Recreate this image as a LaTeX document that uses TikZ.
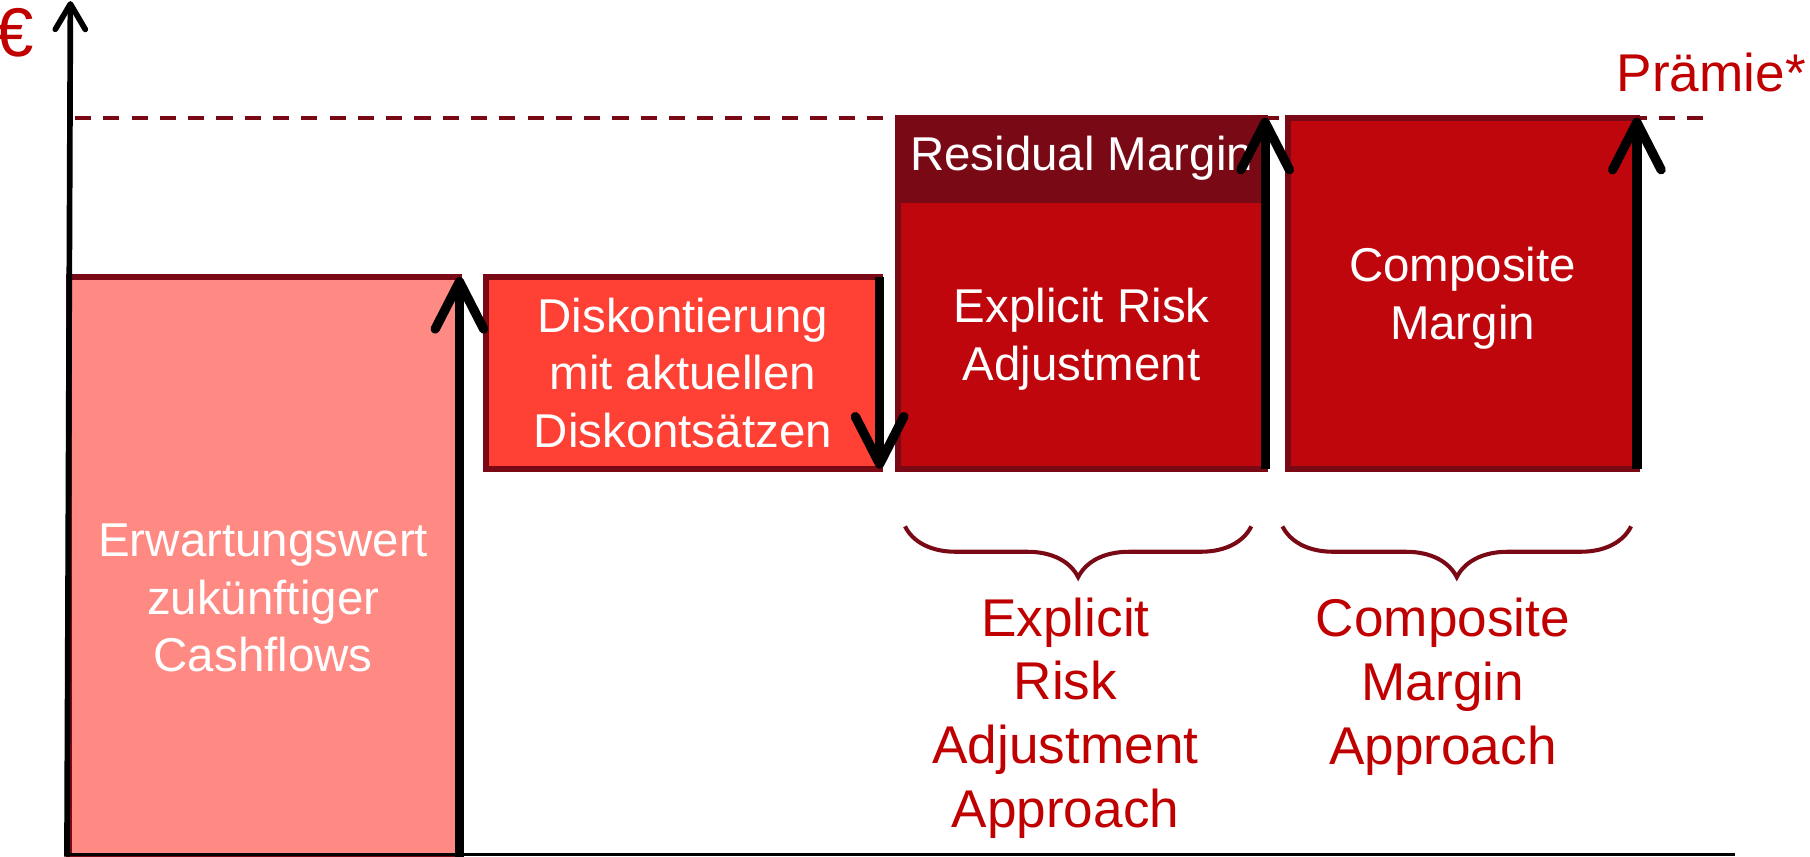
\documentclass[tikz,border=0pt]{standalone}
\usepackage{fontspec}
\setmainfont{Liberation Sans}
\usetikzlibrary{arrows.meta,positioning,decorations.pathreplacing,calc}
\definecolor{darkred}{RGB}{122,9,22}
\definecolor{salmon}{RGB}{255,138,132}
\definecolor{tomato}{RGB}{255,64,52}
\definecolor{bordeaux}{RGB}{190,6,12}
\definecolor{textred}{RGB}{192,0,0}

\begin{document}
\begin{tikzpicture}[
      box/.style={rectangle, draw=darkred, line width=1.5pt, inner sep=0pt, outer sep=0pt, anchor=south west, text=white, align=center, font=\fontsize{11.7}{14.2}\selectfont},
      boxtext/.style={text=white, align=center, font=\fontsize{11.7}{14.2}\selectfont},
      redtext/.style={text=textred, align=center, font=\fontsize{13.1}{15.7}\selectfont},
      move/.style={line width=2.3pt, -{Straight Barb[length=4.1mm,width=4.2mm,round]}},
      curly/.style={decorate, decoration={brace, mirror, amplitude=0.44cm}, draw=darkred, line width=1pt}]
    \useasboundingbox (0,0) rectangle (15.68,7.42);

    \draw[darkred, line width=1pt, dash pattern=on 0.14cm off 0.105cm] (0.65,6.40) -- (14.80,6.40);
    \node[redtext, anchor=base east, inner sep=0pt] (praemie) at (15.65,6.63) {Prämie*};
    \node[redtext, font=\fontsize{17}{20}\selectfont, anchor=west, inner sep=0pt] (euro) at (-0.05,7.14) {€};

    \node[box, fill=salmon, minimum width=3.38cm, minimum height=5.02cm] (cf) at (0.60,0) {};
    \node[boxtext] (cftext) at (2.28,2.24) {Erwartungswert\\zukünftiger\\Cashflows};
    \node[box, fill=tomato, minimum width=3.41cm, minimum height=1.66cm] (disc) at (4.21,3.36) {Diskontierung\\mit aktuellen\\Diskontsätzen};
    \node[box, fill=bordeaux, minimum width=3.18cm, minimum height=2.33cm, text depth=0pt] (era) at (7.78,3.36) {Explicit Risk\\Adjustment};
    \node[box, fill=darkred, minimum width=3.18cm, minimum height=0.71cm, above=0pt of era] (resid) {Residual Margin};
    \node[box, fill=bordeaux, minimum width=3.02cm, minimum height=3.04cm, text depth=0pt] (comp) at (11.16,3.36) {Composite\\Margin};

    \draw[move] (cf.south east) -- (cf.north east);
    \draw[move] (disc.north east) -- (disc.south east);
    \draw[move] (era.south east) -- (resid.north east);
    \draw[move] (comp.south east) -- (comp.north east);

    \coordinate (yfoot) at (0.58,0);
    \coordinate (ytop) at (0.61,7.41);
    \coordinate (xend) at (15.03,0.02);
    \draw[line width=1.4pt, -{Straight Barb[length=2.2mm,width=2.6mm,round]}] (yfoot) -- (ytop);
    \draw[line width=0.8pt] (0.57,0.02) -- (xend);

    \draw[curly] ($(era.south west)+(0.06,-0.50)$) -- ($(era.south east)+(-0.12,-0.50)$);
    \draw[curly] ($(comp.south west)+(-0.05,-0.50)$) -- ($(comp.south east)+(-0.05,-0.50)$);
    \node[redtext] (eraa) at (9.23,1.20) {Explicit\\Risk\\Adjustment\\Approach};
    \node[redtext] (cma) at (12.50,1.47) {Composite\\Margin\\Approach};
\end{tikzpicture}
\end{document}
